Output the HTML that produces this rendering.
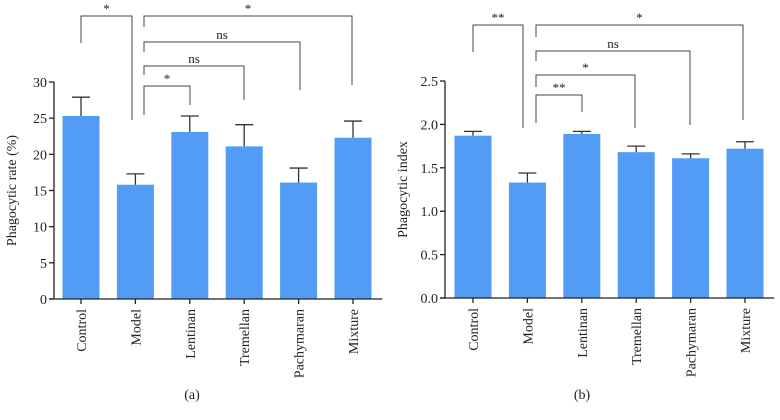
<!DOCTYPE html>
<html><head><meta charset="utf-8">
<style>
html,body{margin:0;padding:0;background:#fff;}
svg{display:block;font-family:"Liberation Serif",serif;}
</style></head>
<body>
<svg id="c" width="780" height="420" viewBox="0 0 780 420"></svg>
<script>
const categories=["Control","Model","Lentinan","Tremellan","Pachymaran","Mixture"];
const rateValues=[25.3,15.8,23.1,21.1,16.1,22.3];
const rateErrors=[2.6,1.5,2.2,3.0,2.0,2.3];
const rateTicks=[0,5,10,15,20,25,30];
const indexValues=[1.87,1.33,1.89,1.68,1.61,1.72];
const indexErrors=[0.05,0.11,0.03,0.07,0.05,0.08];
const indexTicks=["0.0","0.5","1.0","1.5","2.0","2.5"];
const rateSig=["*","*","ns","ns","*"];
const indexSig=["**","**","*","ns","*"];

const NS="http://www.w3.org/2000/svg";
const svg=document.getElementById('c');
function mk(tag,attrs,parent){const e=document.createElementNS(NS,tag);for(const k in attrs)e.setAttribute(k,attrs[k]);(parent||svg).appendChild(e);return e;}

function panel(cfg){
  const g=mk('g',{});
  
  
  const y=v=>cfg.y0-(v-cfg.min)/(cfg.max-cfg.min)*(cfg.y0-cfg.yTop);
  const x=i=>cfg.cx0+i*cfg.step;
  cfg.values.forEach((v,i)=>{
    const r=mk('rect',{x:x(i)-cfg.bw/2,y:y(v),width:cfg.bw,height:cfg.y0-y(v),fill:'#529cf6'},g);
    
    
    const top=y(v+cfg.errors[i]);
    const eb=mk('path',{d:`M${x(i)} ${y(v)}V${top}M${x(i)-9} ${top}H${x(i)+9}`,stroke:'#333',fill:'none','stroke-width':1.3},g);
    
    
  });
  const ax=mk('path',{d:`M${cfg.ax} ${cfg.yTop}V${cfg.y0}M${cfg.ax-5} ${cfg.y0}H${x(5)+cfg.step/2+2}`,stroke:'#222',fill:'none','stroke-width':1.3},g);
  
  
  cfg.ticks.forEach(t=>{
    const yy=y(parseFloat(t));
    mk('line',{x1:cfg.ax-5,x2:cfg.ax,y1:yy,y2:yy,stroke:'#222','stroke-width':1.3},g);
    const tx=mk('text',{x:cfg.ax-7,y:yy+5,'text-anchor':'end','font-size':14,fill:'#222'},g);
    tx.textContent=t;
    
    
  });
  categories.forEach((c,i)=>{
    mk('line',{x1:x(i),x2:x(i),y1:cfg.y0,y2:cfg.y0+5,stroke:'#222','stroke-width':1.3},g);
    const t=mk('text',{transform:`translate(${x(i)+5},${cfg.y0+10}) rotate(-90)`,'text-anchor':'end','font-size':14,fill:'#222'},g);
    t.textContent=c;
    
    
  });
  const yl=mk('text',{transform:`translate(${cfg.ax-38},${(cfg.y0+cfg.yTop)/2}) rotate(-90)`,'text-anchor':'middle','font-size':14,fill:'#222'},g);
  yl.textContent=cfg.ylabel;
  
  
  const cap=mk('text',{x:cfg.capX,y:399,'text-anchor':'middle','font-size':14,fill:'#222'},g);
  cap.textContent=cfg.caption;
  
  
  cfg.brackets.forEach((b,k)=>{
    const p=mk('path',{d:`M${b[0]} ${b[3]}V${b[2]}H${b[1]}V${b[4]}`,stroke:'#444',fill:'none','stroke-width':1},g);
    
    
    const t=mk('text',{x:(b[0]+b[1])/2,y:b[2]-3,'text-anchor':'middle','font-size':13,fill:'#222'},g);
    t.textContent=cfg.sig[k];
    
    
  });
}
panel({name:'panel-a',values:rateValues,errors:rateErrors,ticks:rateTicks.map(String),min:0,max:30,y0:299,yTop:82,ax:54,cx0:81,step:54.4,bw:37,ylabel:'Phagocytic rate (%)',caption:'(a)',capX:192,sig:rateSig,
  brackets:[[81,132,16,43,120],[144,190,86,115,105],[144,244,66,75,100],[144,300,42,52,90],[144,352,16,27,85]]});
panel({name:'panel-b',values:indexValues,errors:indexErrors,ticks:indexTicks,min:0,max:2.5,y0:298,yTop:81,ax:445,cx0:473,step:54.4,bw:37,ylabel:'Phagocytic index',caption:'(b)',capX:582,sig:indexSig,
  brackets:[[473,523,25,52,128],[536,582,95,123,112],[536,635,75,87,128],[536,690,51,61,125],[536,743,25,37,120]]});
</script>
</body></html>
